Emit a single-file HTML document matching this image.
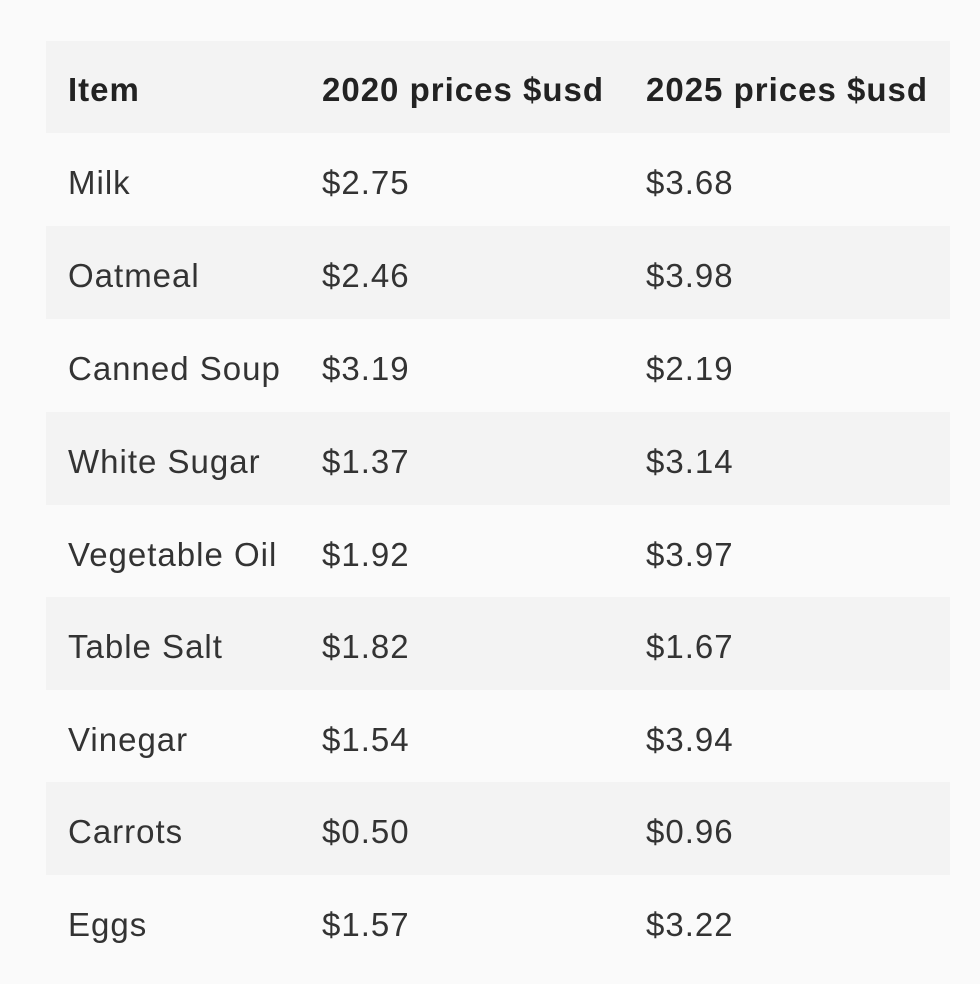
<!DOCTYPE html>
<html><head><meta charset="utf-8"><style>
html,body{margin:0;padding:0;background:#fafafa;width:980px;height:984px;overflow:hidden}
body{font-family:"Liberation Sans",sans-serif;color:#333}
.row{position:absolute;left:46px;width:904px;height:93px}
.s{background:#f3f3f3}
.c{position:absolute;top:3px;line-height:93px;font-size:33px;white-space:nowrap;letter-spacing:1px}
.h .c{font-weight:bold;color:#222;font-size:33px;letter-spacing:1px}
</style></head><body>
<div class="row s h" style="top:41px;height:92px"><div class="c" style="left:22px;line-height:92px">Item</div><div class="c" style="left:276px;line-height:92px">2020 prices $usd</div><div class="c" style="left:600px;line-height:92px">2025 prices $usd</div></div>
<div class="row" style="top:133px"><div class="c" style="left:22px">Milk</div><div class="c" style="left:276px">$2.75</div><div class="c" style="left:600px">$3.68</div></div>
<div class="row s" style="top:226px"><div class="c" style="left:22px">Oatmeal</div><div class="c" style="left:276px">$2.46</div><div class="c" style="left:600px">$3.98</div></div>
<div class="row" style="top:319px"><div class="c" style="left:22px">Canned Soup</div><div class="c" style="left:276px">$3.19</div><div class="c" style="left:600px">$2.19</div></div>
<div class="row s" style="top:412px"><div class="c" style="left:22px">White Sugar</div><div class="c" style="left:276px">$1.37</div><div class="c" style="left:600px">$3.14</div></div>
<div class="row" style="top:505px"><div class="c" style="left:22px">Vegetable Oil</div><div class="c" style="left:276px">$1.92</div><div class="c" style="left:600px">$3.97</div></div>
<div class="row s" style="top:597px"><div class="c" style="left:22px">Table Salt</div><div class="c" style="left:276px">$1.82</div><div class="c" style="left:600px">$1.67</div></div>
<div class="row" style="top:690px"><div class="c" style="left:22px">Vinegar</div><div class="c" style="left:276px">$1.54</div><div class="c" style="left:600px">$3.94</div></div>
<div class="row s" style="top:782px"><div class="c" style="left:22px">Carrots</div><div class="c" style="left:276px">$0.50</div><div class="c" style="left:600px">$0.96</div></div>
<div class="row" style="top:875px"><div class="c" style="left:22px">Eggs</div><div class="c" style="left:276px">$1.57</div><div class="c" style="left:600px">$3.22</div></div>
</body></html>
